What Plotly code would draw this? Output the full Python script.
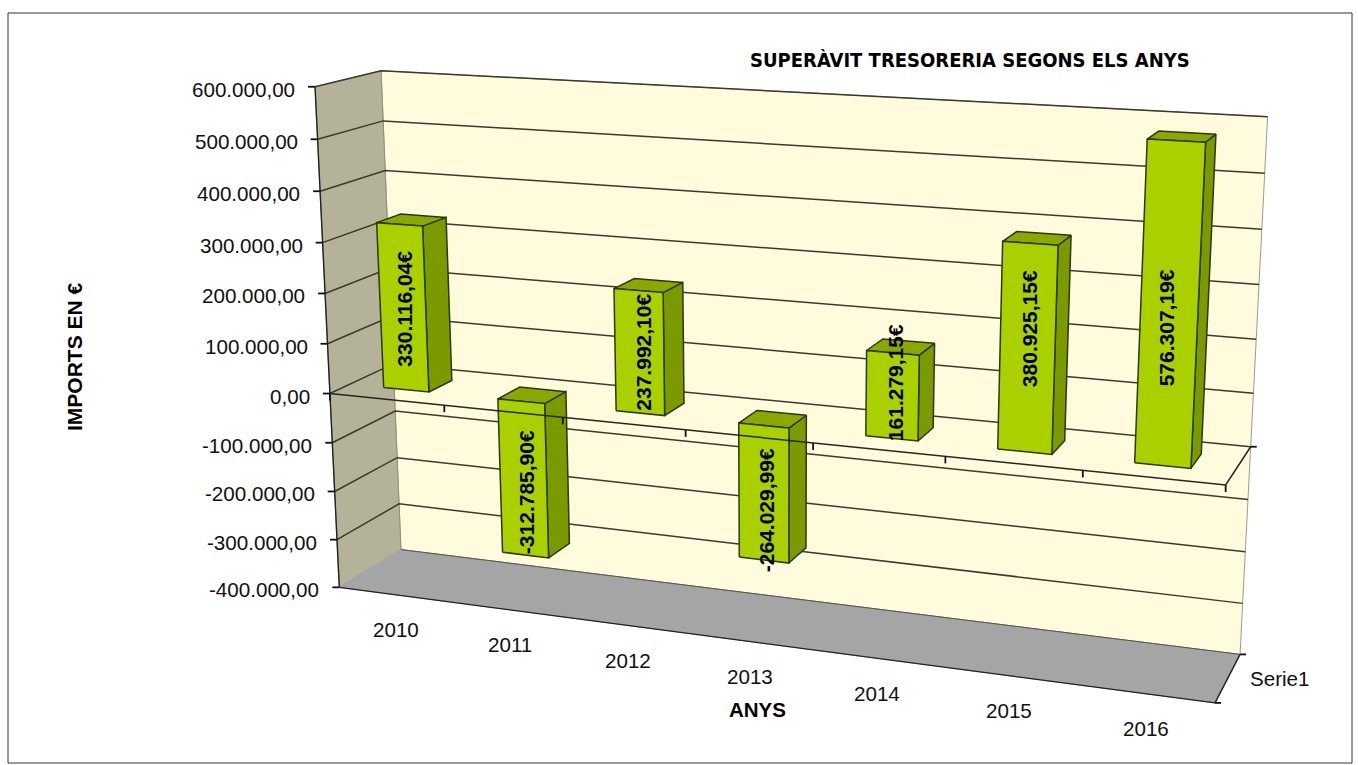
import numpy as np
import plotly.graph_objects as go

# ---- data ----
YEARS = ["2010", "2011", "2012", "2013", "2014", "2015", "2016"]
VALUES = [330116.04, -312785.90, 237992.10, -264029.99, 161279.15, 380925.15, 576307.19]
BAR_LABELS = ["330.116,04€", "-312.785,90€", "237.992,10€", "-264.029,99€", "161.279,15€", "380.925,15€", "576.307,19€"]
TICK_VALUES = [600000, 500000, 400000, 300000, 200000, 100000, 0, -100000, -200000, -300000, -400000]
TICK_LABELS = ["600.000,00", "500.000,00", "400.000,00", "300.000,00", "200.000,00", "100.000,00", "0,00",
               "-100.000,00", "-200.000,00", "-300.000,00", "-400.000,00"]
TITLE = "SUPERÀVIT TRESORERIA SEGONS ELS ANYS"
Y_TITLE = "IMPORTS EN €"
X_TITLE = "ANYS"
SERIES = "Serie1"

# ---- styling / layout constants ----
VMIN, VMAX = -400000, 600000
BAR_HALF = 0.2        # half width of a bar, in categories
D0, D1 = 0.31, 0.69   # bar extent along the depth axis
LABEL_DX = [2, 3, 4, 2, 3, 2, -2]
LABEL_DY = [1, 13, 0, 17, -13, -20, 22]
W, H = 1358, 765
FONT = "Liberation Sans"

# Camera calibration: (across, value, depth) -> picture position of the box corners
CAL = [((0, 600000, 0), (315, 87)), ((0, -400000, 0), (339.3, 587.3)),
       ((0, 600000, 1), (381, 70.7)), ((0, -400000, 1), (401, 550)),
       ((1, 600000, 1), (1267.7, 116.7)), ((1, -400000, 1), (1240, 654)),
       ((1, -400000, 0), (1215, 703.3)), ((1, 0, 0), (1225.7, 485)),
       ((1, 0, 1), (1250.7, 446.7)), ((0, 0, 0), (330, 393))]


def nv(val):
    return (val - VMIN) / (VMAX - VMIN)


A, b = [], []
for (u, val, d), (px, py) in CAL:
    X = [u, nv(val), d, 1.0]
    A.append(X + [0, 0, 0, 0] + [-px * c for c in X[:3]])
    b.append(px)
    A.append([0, 0, 0, 0] + X + [-py * c for c in X[:3]])
    b.append(py)
sol = np.linalg.lstsq(np.array(A), np.array(b), rcond=None)[0]
PM = np.append(sol, 1.0).reshape(3, 4)


def proj(cat, val, d):
    h = PM @ np.array([cat / len(YEARS), nv(val), d, 1.0])
    return h[0] / h[2], h[1] / h[2]


def poly(points):
    pts = [proj(*p) for p in points]
    pts.append(pts[0])
    return [p[0] for p in pts], [p[1] for p in pts]


def face(fig, points, fill, line="rgba(0,0,0,0)", width=1.0):
    x, y = poly(points)
    fig.add_trace(go.Scatter(x=x, y=y, mode="lines", fill="toself", fillcolor=fill,
                             line=dict(color=line, width=width), hoverinfo="skip", showlegend=False))


def lines(fig, segments, color, width):
    x, y = [], []
    for seg in segments:
        for p in seg:
            q = proj(*p)
            x.append(q[0])
            y.append(q[1])
        x.append(None)
        y.append(None)
    fig.add_trace(go.Scatter(x=x, y=y, mode="lines", line=dict(color=color, width=width),
                             hoverinfo="skip", showlegend=False, connectgaps=False))


fig = go.Figure()
n = len(YEARS)

# walls and floor
face(fig, [(0, VMIN, 1), (n, VMIN, 1), (n, VMAX, 1), (0, VMAX, 1)], "#FFFBDC", "#9a9a90", 1)
face(fig, [(0, VMIN, 0), (0, VMIN, 1), (0, VMAX, 1), (0, VMAX, 0)], "#B4B399", "#8f8f80", 1)
face(fig, [(0, VMIN, 0), (n, VMIN, 0), (n, VMIN, 1), (0, VMIN, 1)], "#A5A5A8", "#a5a5a8", 1)

# gridlines
grid = []
for t in TICK_VALUES:
    if t != VMIN:
        grid.append([(0, t, 0), (0, t, 1), (n, t, 1)])
lines(fig, grid, "#3b3a2c", 1.5)
lines(fig, [[(0, VMIN, 1), (n, VMIN, 1)]], "#55554a", 1.0)
lines(fig, [[(n, VMIN, 0), (n, VMIN, 1)], [(0, VMIN, 0), (n, VMIN, 0)], [(0, VMIN, 0), (0, VMAX, 0)]], "#222222", 1.4)

# bars
EDGE = "#2a3808"
for i, val in enumerate(VALUES):
    l, r = i + 0.5 - BAR_HALF, i + 0.5 + BAR_HALF
    lo, hi = min(val, 0), max(val, 0)
    face(fig, [(r, lo, D0), (r, lo, D1), (r, hi, D1), (r, hi, D0)], "#7B9A00", EDGE, 1.5)
    face(fig, [(l, hi, D0), (r, hi, D0), (r, hi, D1), (l, hi, D1)], "#8BA800", EDGE, 1.5)
    face(fig, [(l, lo, D0), (r, lo, D0), (r, hi, D0), (l, hi, D0)], "#AAD000", EDGE, 1.5)

# category axis at zero, depth axis at zero, tick marks
lines(fig, [[(0, 0, 0), (n, 0, 0), (n, 0, 1)]], "#262620", 1.5)

tick_x, tick_y = [], []
for i in range(0, n + 1):
    q = proj(i, 0, 0)
    tick_x += [q[0], q[0], None]
    tick_y += [q[1], q[1] + 7, None]
for t in TICK_VALUES:
    q = proj(0, t, 0)
    tick_x += [q[0] - 7, q[0], None]
    tick_y += [q[1], q[1], None]
for d, t in [(0, VMIN), (1, VMIN), (1, 0)]:
    q = proj(n, t, d)
    tick_x += [q[0], q[0] + 6, None]
    tick_y += [q[1], q[1], None]
fig.add_trace(go.Scatter(x=tick_x, y=tick_y, mode="lines", line=dict(color="#111111", width=1.8),
                         hoverinfo="skip", showlegend=False))

ann = []
txt = dict(color="#111111", family=FONT, size=20.6)
bold = dict(color="#000000", family=FONT, size=21, weight="bold")
for t, lab in zip(TICK_VALUES, TICK_LABELS):
    x, y = proj(0, t, 0)
    ann.append(dict(x=x, y=y, text=lab, xanchor="right", yanchor="middle", xshift=-18, yshift=-2.5,
                    showarrow=False, font=txt))
for i, yr in enumerate(YEARS):
    x, y = proj(i + 0.5, VMIN, 0)
    ann.append(dict(x=x, y=y, text=yr, xanchor="center", yanchor="middle", xshift=1, yshift=-35,
                    showarrow=False, font=txt))
for i, (val, lab) in enumerate(zip(VALUES, BAR_LABELS)):
    x, y = proj(i + 0.5, val / 2, D0)
    ann.append(dict(x=x, y=y, text=lab, textangle=-90, xanchor="center", yanchor="middle",
                    xshift=LABEL_DX[i], yshift=-LABEL_DY[i], showarrow=False, font=bold))

x, y = proj(n, VMIN, 0.5)
ann.append(dict(x=x, y=y, text=SERIES, xanchor="left", yanchor="middle", xshift=20, yshift=0,
                showarrow=False, font=txt))
ann.append(dict(x=757, y=709, text=X_TITLE, xanchor="center", yanchor="middle", showarrow=False,
                font=dict(color="#000000", family=FONT, size=20.5, weight="bold")))
ann.append(dict(x=74, y=357, text=Y_TITLE, textangle=-90, xanchor="center", yanchor="middle",
                showarrow=False, font=bold))
ann.append(dict(x=970, y=60, text=TITLE, xanchor="center", yanchor="middle", showarrow=False,
                font=dict(color="#000000", family="DejaVu Sans Condensed, DejaVu Sans", size=20, weight="bold")))

fig.update_layout(
    width=W, height=H, margin=dict(l=0, r=0, t=0, b=0), autosize=False,
    paper_bgcolor="white", plot_bgcolor="white", showlegend=False,
    xaxis=dict(range=[0, W], visible=False, fixedrange=True),
    yaxis=dict(range=[H, 0], visible=False, fixedrange=True),
    annotations=ann,
    shapes=[dict(type="rect", x0=8, y0=13, x1=1352, y1=763, line=dict(color="#333333", width=1), layer="below")],
)
fig.write_html("out.html", config={"displayModeBar": False},
               post_script="document.body.style.margin='0';")
